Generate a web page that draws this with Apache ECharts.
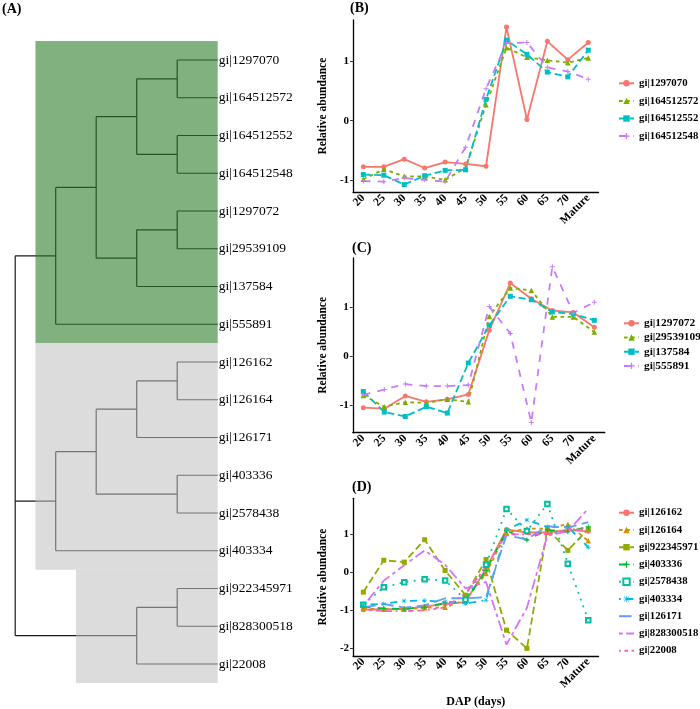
<!DOCTYPE html>
<html><head><meta charset="utf-8">
<script src="https://cdn.jsdelivr.net/npm/echarts@6/dist/echarts.min.js"></script>
<style>html,body{margin:0;padding:0;background:#fff}#c{width:700px;height:709px}</style>
</head><body><div id="c"></div>
<script>
// ---------- Panel A: dendrogram data ----------
const leaves = ['gi|1297070','gi|164512572','gi|164512552','gi|164512548','gi|1297072','gi|29539109','gi|137584','gi|555891','gi|126162','gi|126164','gi|126171','gi|403336','gi|2578438','gi|403334','gi|922345971','gi|828300518','gi|22008'];
// internal nodes: children (negative = leaf -(index+1), otherwise node index) and merge heights
const nodeChildren = [[-1,-2],[-3,-4],[0,1],[-5,-6],[3,-7],[2,4],[5,-8],[-9,-10],[7,-11],[-12,-13],[8,9],[10,-14],[-15,-16],[12,-17],[6,11,13]];
const nodeHeights = [1,1,2,1,2,3,4,1,2,1,3,4,1,2,5];
// shaded clusters: first leaf, last leaf, height of left edge
const shadeFirst = [0, 8, 14];
const shadeLast = [7, 13, 16];
const shadeHeight = [4.5, 4.5, 3.5];

// ---------- Panels B-D ----------
const dap = ['20','25','30','35','40','45','50','55','60','65','70','Mature'];
const ticksBC = [-1, 0, 1];
const ticksD = [-2, -1, 0, 1];

const namesB = ['gi|1297070','gi|164512572','gi|164512552','gi|164512548'];
const b1297070   = [-0.78,-0.78,-0.65,-0.80,-0.70,-0.73,-0.77,1.58,0.02,1.34,1.03,1.32];
const b164512572 = [-0.99,-0.82,-0.94,-0.94,-1.00,-0.80,0.27,1.23,1.07,1.02,0.98,1.06];
const b164512552 = [-0.91,-0.92,-1.08,-0.93,-0.84,-0.83,0.36,1.36,1.12,0.82,0.74,1.19];
const b164512548 = [-1.02,-1.03,-0.97,-1.00,-1.03,-0.45,0.54,1.31,1.32,0.90,0.83,0.70];

const namesC = ['gi|1297072','gi|29539109','gi|137584','gi|555891'];
const c1297072 = [-1.05,-1.07,-0.81,-0.93,-0.88,-0.78,0.53,1.49,1.17,0.93,0.89,0.59];
const c29539109 = [-0.80,-1.03,-0.94,-0.95,-0.88,-0.93,0.81,1.39,1.34,0.80,0.80,0.49];
const c137584 = [-0.72,-1.14,-1.23,-1.03,-1.16,-0.14,0.63,1.22,1.15,0.90,0.86,0.73];
const c555891 = [-0.79,-0.68,-0.57,-0.61,-0.61,-0.59,1.01,0.46,-1.35,1.82,0.88,1.10];

const namesD = ['gi|126162','gi|126164','gi|922345971','gi|403336','gi|2578438','gi|403334','gi|126171','gi|828300518','gi|22008'];
const d126162    = [-0.98,-0.97,-0.96,-0.90,-0.83,-0.78,0.10,1.13,1.05,1.05,1.12,1.08];
const d126164    = [-0.95,-0.97,-0.97,-0.93,-0.92,-0.72,-0.03,1.05,1.15,1.15,1.27,0.83];
const d922345971 = [-0.52,0.32,0.27,0.86,0.05,-0.60,0.34,-1.52,-2.00,1.14,0.58,1.14];
const d403336    = [-0.90,-0.95,-0.96,-0.92,-0.80,-0.75,0.05,1.10,0.85,1.12,1.07,1.20];
const d2578438   = [-0.85,-0.39,-0.26,-0.18,-0.21,-0.72,0.20,1.67,1.09,1.80,0.23,-1.26];
const d403334    = [-0.85,-0.83,-0.75,-0.74,-0.78,-0.82,-0.73,1.12,1.38,1.20,1.20,0.66];
const d126171    = [-0.92,-0.83,-0.93,-0.87,-0.68,-0.68,-0.65,0.98,0.87,1.22,1.18,1.32];
const d828300518 = [-0.88,-0.22,0.19,0.58,0.20,-0.42,-0.25,-1.90,-0.93,0.97,1.08,1.68];
const d22008     = [-0.98,-1.02,-1.02,-1.00,-0.92,-0.55,0.15,1.00,1.00,1.00,1.10,1.15];

// ---------- build dendrogram segments ----------
const nodeY = [];
function yOf(ref){ return ref < 0 ? (-ref - 1) : nodeY[ref]; }
function hOf(ref){ return ref < 0 ? 0 : nodeHeights[ref]; }
nodeChildren.forEach((ch, i) => { nodeY[i] = (yOf(ch[0]) + yOf(ch[ch.length-1])) / 2; });
const segs = [];
nodeChildren.forEach((ch, i) => {
  const h = nodeHeights[i];
  segs.push([h, yOf(ch[0]), h, yOf(ch[ch.length-1])]);
  ch.forEach(c => segs.push([hOf(c), yOf(c), h, yOf(c)]));
});
const shadeData = shadeFirst.map((f, i) => [shadeHeight[i], f - 0.5, 0, shadeLast[i] + 0.5, i]);
const shadeColors = ['rgba(46,125,44,0.6)', 'rgba(191,191,191,0.55)', 'rgba(191,191,191,0.55)'];

// ---------- styles ----------
const FONT = 'Liberation Serif';
const plus = 'path://M4,0H6V4H10V6H6V10H4V6H0V4H4Z';
const aster = 'path://M4.5,0H5.5V4.5H10V5.5H5.5V10H4.5V5.5H0V4.5H4.5Z M1.5,0.8L9.2,8.5L8.5,9.2L0.8,1.5Z M8.5,0.8L9.2,1.5L1.5,9.2L0.8,8.5Z';
const LW = 1.8;
const dashes = ['solid', [2*LW,2*LW], [4*LW,2*LW], [4*LW,4*LW], [1*LW,3*LW], [1*LW,3*LW,4*LW,3*LW], [7*LW,3*LW], [2*LW,2*LW,6*LW,2*LW], [1*LW,2*LW,2*LW,2*LW,3*LW,2*LW,4*LW,2*LW]];
const symbols = ['circle','triangle','rect',plus,'emptyRect',aster,'none','none','none'];
const col4 = ['#F8766D','#7CAE00','#00BFC4','#C77CFF'];
const col9 = ['#F8766D','#D39200','#93AA00','#00BA38','#00C19F','#00B9E3','#619CFF','#DB72FB','#FF61C3'];

function mkSeries(name, data, i, color, xi, yi){
  return {
    type:'line', name, data, xAxisIndex:xi, yAxisIndex:yi,
    symbol: symbols[i], symbolSize: symbols[i]==='triangle'?5.5:(symbols[i]==='emptyRect'?4.5:5), showSymbol: symbols[i]!=='none',
    lineStyle:{color, width:LW, type:dashes[i]},
    itemStyle:{color, borderColor:color, borderWidth: symbols[i]==='emptyRect'?1:0},
    animation:false, z:5
  };
}

const seriesB = [b1297070,b164512572,b164512552,b164512548].map((d,i)=>mkSeries(namesB[i], d, i, col4[i], 1, 2));
const seriesC = [c1297072,c29539109,c137584,c555891].map((d,i)=>mkSeries(namesC[i], d, i, col4[i], 2, 3));
const seriesD = [d126162,d126164,d922345971,d403336,d2578438,d403334,d126171,d828300518,d22008].map((d,i)=>mkSeries(namesD[i], d, i, col9[i], 3, 4));

const bold = {fontFamily:FONT, fontWeight:'bold', color:'#000'};
function catX(gi, withName){
  const a = {type:'category', gridIndex:gi, data:dap, boundaryGap:true,
    axisLine:{onZero:false, lineStyle:{color:'#000', width:1.3}},
    axisTick:{alignWithLabel:true, length:3, lineStyle:{color:'#333'}},
    axisLabel:Object.assign({interval:0, rotate:45, fontSize:11.5, margin:4}, bold)};
  if (withName){ Object.assign(a, {name:'DAP (days)', nameLocation:'middle', nameGap:40, nameTextStyle:Object.assign({fontSize:12}, bold)}); }
  return a;
}
function valY(gi, mn, mx, ticks){
  return {type:'value', gridIndex:gi, min:mn, max:mx, splitLine:{show:false},
    name:'Relative abundance', nameLocation:'middle', nameGap:24, nameRotate:90,
    nameTextStyle:Object.assign({fontSize:11.5}, bold),
    axisLine:{show:true, onZero:false, lineStyle:{color:'#000', width:1.3}},
    axisTick:{show:true, length:3, customValues:ticks, lineStyle:{color:'#333'}},
    axisLabel:Object.assign({fontSize:11, margin:4, customValues:ticks}, bold)};
}
function legend(names, left, top, gap, fs, noSym){
  return {data:names.map(n => noSym.indexOf(n) >= 0 ? {name:n, itemStyle:{opacity:0}} : {name:n}),
    orient:'vertical', left, top, padding:0, itemWidth:15, itemHeight:8, itemGap:gap,
    textStyle:Object.assign({fontSize:fs, lineHeight:12}, bold), selectedMode:false};
}

const option = {
  animation:false,
  title:[
    {text:'(A)', left:2, top:2, padding:0, textStyle:Object.assign({fontSize:14}, bold)},
    {text:'(B)', left:350, top:1, padding:0, textStyle:Object.assign({fontSize:14}, bold)},
    {text:'(C)', left:352, top:241, padding:0, textStyle:Object.assign({fontSize:14}, bold)},
    {text:'(D)', left:352, top:480, padding:0, textStyle:Object.assign({fontSize:14}, bold)}
  ],
  grid:[
    {left:3.05, top:41.1, width:214.65, height:641.8},
    {left:353.1, top:20, width:245.4, height:172.3},
    {left:352.8, top:258, width:252, height:174.7},
    {left:353.1, top:498.3, width:245.4, height:160.4}
  ],
  xAxis:[
    {type:'value', gridIndex:0, min:0, max:5.3, inverse:true, show:false},
    catX(1,false), catX(2,false), catX(3,true)
  ],
  yAxis:[
    {type:'value', gridIndex:0, min:-0.5, max:16.5, inverse:true, show:false},
    {type:'category', gridIndex:0, data:leaves, inverse:true, position:'right', boundaryGap:true,
      axisLine:{show:false}, axisTick:{show:false},
      axisLabel:{interval:0, margin:1, fontFamily:FONT, fontSize:13.5, color:'#000'}},
    valY(1,-1.21,1.70,ticksBC), valY(2,-1.56,2.0,ticksBC), valY(3,-2.2,1.95,ticksD)
  ],
  legend:[
    legend(namesB, 618, 77.3, 5.6, 10.8, []),
    legend(namesC, 623, 317.3, 2.2, 11.4, []),
    legend(namesD, 618, 506.7, 5.25, 10.8, ['gi|126171','gi|828300518','gi|22008'])
  ],
  series:[
    {type:'custom', xAxisIndex:0, yAxisIndex:0, data:segs, z:2, silent:true,
      encode:{x:[0,2], y:[1,3]},
      renderItem:(p, api) => {
        const a = api.coord([api.value(0), api.value(1)]);
        const b = api.coord([api.value(2), api.value(3)]);
        return {type:'line', shape:{x1:a[0], y1:a[1], x2:b[0], y2:b[1]}, style:{stroke:'#1a1a1a', lineWidth:1.2}};
      }},
    {type:'custom', xAxisIndex:0, yAxisIndex:0, data:shadeData, z:3, silent:true,
      encode:{x:[0,2], y:[1,3]},
      renderItem:(p, api) => {
        const a = api.coord([api.value(0), api.value(1)]);
        const b = api.coord([api.value(2), api.value(3)]);
        return {type:'rect', shape:{x:a[0], y:a[1], width:b[0]-a[0], height:b[1]-a[1]}, style:{fill:shadeColors[api.value(4)]}};
      }},
    ...seriesB, ...seriesC, ...seriesD
  ]
};
const chart = echarts.init(document.getElementById('c'), null, {renderer:'canvas'});
chart.setOption(option);
</script></body></html>
